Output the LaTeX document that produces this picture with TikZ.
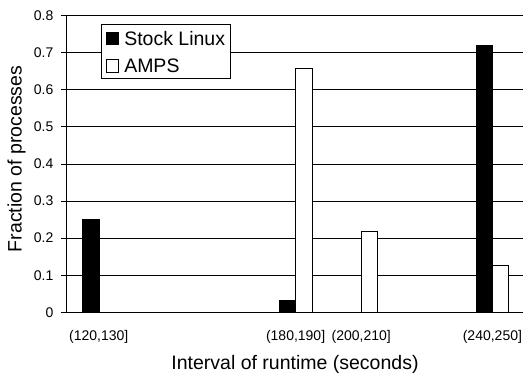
\documentclass[tikz,border=0pt]{standalone}
\usepackage{fontspec}
\setmainfont{Liberation Sans}
\usetikzlibrary{positioning}

\begin{document}
\begin{tikzpicture}[
  x=1pt, y=1pt,
  gridline/.style={draw=black, line width=0.8pt},
  axisline/.style={draw=black, line width=0.9pt},
  stockbar/.style={fill=black, draw=black, line width=0.6pt},
  ampsbar/.style={fill=white, draw=black, line width=0.8pt},
  ticklabel/.style={font=\fontsize{14}{16}\selectfont, inner sep=0pt},
  axistitle/.style={font=\fontsize{19.5}{22}\selectfont, inner sep=0pt},
  legendbox/.style={draw=black, fill=white, line width=0.8pt, inner sep=0pt},
  keybox/.style={draw=black, line width=0.6pt, minimum size=12.5pt, inner sep=0pt},
  legendtext/.style={font=\fontsize{19.5}{22}\selectfont, inner sep=0pt, anchor=west}
]
\useasboundingbox (0,0) rectangle (523,374);

% plot area: x in seconds (interval midpoint), y in fraction
\begin{scope}[shift={(-311.2,61.7)}, x=3.28pt, y=370.8pt]
  \coordinate (origin) at (115,0);
  \coordinate (xend) at (254.3,0);
  \coordinate (ytop) at (115,0.8);

  % horizontal grid and y ticks
  \foreach \i in {1,...,8} {
    \draw[gridline] (115,\i/10) -- (254.3,\i/10);
    \draw[axisline] (115,\i/10) -- ++(-5.3pt,0pt);
    \node[ticklabel, anchor=east] (tick\i) at ([xshift=-12.5pt]115,\i/10) {0.\i};
  }
  \draw[axisline] (origin) -- ++(-5.3pt,0pt);
  \node[ticklabel, anchor=east] (tick0) at ([xshift=-12.5pt]origin) {0};

  % bars
  \foreach \m/\v in {125/0.25, 185/0.031, 245/0.72}
    \draw[stockbar] (\m-5,0) rectangle (\m,\v);
  \foreach \m/\v in {185/0.657, 205/0.218, 245/0.126}
    \draw[ampsbar] (\m,0) rectangle (\m+5,\v);

  % axes
  \draw[axisline] (ytop) -- (origin) -- (xend);

  % category labels
  \foreach \m/\lbl in {125/{(120,130]}, 185/{(180,190]}, 205/{(200,210]}, 245/{(240,250]}}
    \node[ticklabel, anchor=base] (cat\m) at ([yshift=-28.7pt]\m,0) {\lbl};
\end{scope}

% axis titles
\node[axistitle, anchor=base] (xtitle) at (295,4.7) {Interval of runtime (seconds)};
\node[axistitle, anchor=base, rotate=90] (ytitle) at (21.7,215) {Fraction of processes};

% legend
\node[legendbox, minimum width=129.3pt, minimum height=54.3pt, anchor=north west] (legend) at (100.7,350) {};
\node[keybox, fill=black] (keystock) at (112.5,335.5) {};
\node[keybox, fill=white] (keyamps) at (112.5,308) {};
\node[legendtext, right=5pt of keystock] (txtstock) {Stock Linux};
\node[legendtext, right=5pt of keyamps] (txtamps) {AMPS};
\end{tikzpicture}
\end{document}
